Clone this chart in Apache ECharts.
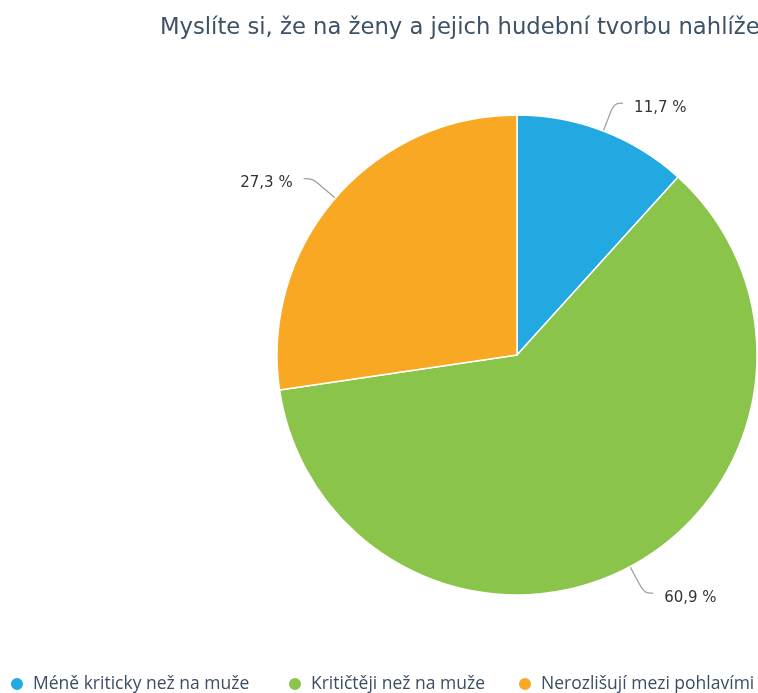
<!DOCTYPE html>
<html>
<head>
<meta charset="utf-8">
<script src="https://cdn.jsdelivr.net/npm/echarts@6/dist/echarts.min.js"></script>
<style>
  html, body { margin: 0; padding: 0; background: #fff; }
  #chart { width: 758px; height: 693px; }
</style>
</head>
<body>
<div id="chart"></div>
<script>
// Survey answers and their shares (%)
const categories = ['Méně kriticky než na muže', 'Kritičtěji než na muže', 'Nerozlišují mezi pohlavími'];
const shares = [11.7, 60.9, 27.3];
const colors = ['#22a9e1', '#8ac44a', '#f9a824'];
const titleText = 'Myslíte si, že na ženy a jejich hudební tvorbu nahlížejí';

const chart = echarts.init(document.getElementById('chart'), null, { renderer: 'canvas' });

// one legend component per entry so each sits at its own column
const legendLefts = [9, 287, 517];
const legends = categories.map((name, i) => ({
  data: [name],
  left: legendLefts[i],
  top: 675,
  icon: 'circle',
  itemWidth: 14,
  itemHeight: 14,
  itemGap: 0,
  padding: 0,
  selectedMode: false,
  textStyle: { fontFamily: 'Open Sans', fontSize: 17.5, color: '#3c4e63', padding: [0, 0, 0, 4] }
}));

chart.setOption({
  backgroundColor: '#ffffff',
  animation: false,
  color: colors,
  title: {
    text: titleText,
    left: 160,
    top: 17,
    padding: 0,
    textStyle: { fontFamily: 'DejaVu Sans', fontSize: 22.7, fontWeight: 'normal', color: '#3d5266' }
  },
  legend: legends,
  series: [{
    type: 'pie',
    center: [517, 355],
    radius: 240,
    startAngle: 90,
    clockwise: true,
    data: categories.map((name, i) => ({ name, value: shares[i] })),
    itemStyle: { borderColor: '#ffffff', borderWidth: 1.5 },
    label: {
      show: true,
      // empty first line drops the value text a little below the connector end
      formatter: p => '\n' + p.value.toFixed(1).replace('.', ',') + ' %',
      fontFamily: 'DejaVu Sans',
      fontSize: 15,
      lineHeight: 10,
      color: '#333333',
      distanceToLabelLine: 11
    },
    labelLine: {
      show: true,
      length: 30,
      length2: 9,
      smooth: 0.4,
      lineStyle: { color: '#a0a0a0', width: 1.3 }
    },
    emphasis: { disabled: true }
  }]
});
</script>
</body>
</html>
